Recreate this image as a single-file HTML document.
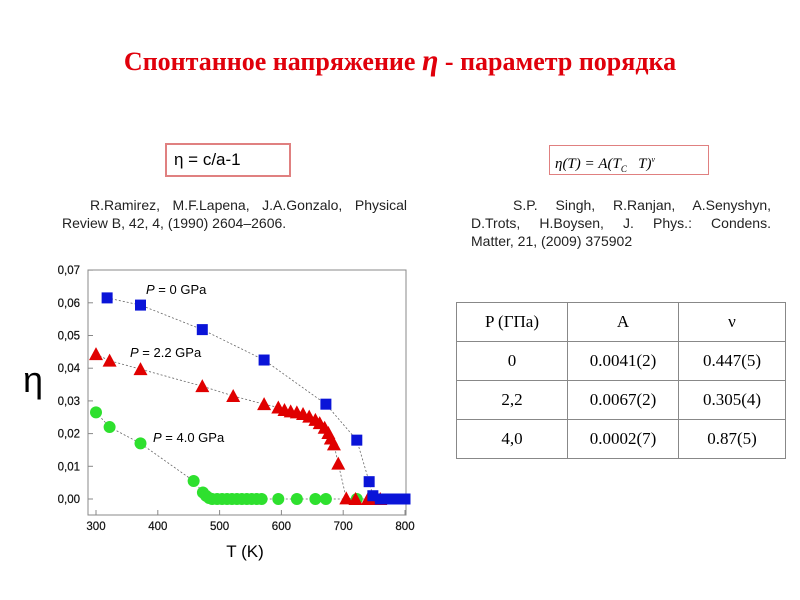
<!DOCTYPE html>
<html><head><meta charset="utf-8"><style>
body{margin:0;width:800px;height:600px;background:#fff;position:relative;font-family:"Liberation Sans",sans-serif;overflow:hidden}
.a{position:absolute}
table{border-collapse:collapse;font-family:"Liberation Serif",serif;font-size:17px}
td{border:1px solid #888;text-align:center;height:38px;padding:0}
.j{text-align:justify;text-align-last:justify;display:block;white-space:nowrap}
</style></head><body>
<div class="a" style="left:0;width:800px;top:44px;text-align:center;font-family:'Liberation Serif',serif;font-weight:bold;font-size:26px;color:#e0000b;white-space:nowrap">Спонтанное напряжение <i style="font-size:30px">η</i> - параметр порядка</div>
<div class="a" style="left:165px;top:143px;width:126px;height:34px;border:2px solid #e08080;box-sizing:border-box;font-size:17px;line-height:30px;padding-left:7px">η = c/a-1</div>
<div class="a" style="left:62px;top:196px;width:345px;font-size:14px;line-height:18px;color:#222">
<span class="j" style="padding-left:28px">R.Ramirez, M.F.Lapena, J.A.Gonzalo, Physical</span>
<span>Review B, 42, 4, (1990) 2604–2606.</span></div>
<div class="a" style="left:549px;top:145px;width:160px;height:30px;border:1px solid #e08080;font-family:'Liberation Serif',serif;font-style:italic;font-size:15px;line-height:28px;padding-left:5px;box-sizing:border-box">η(T) = A(T<sub style="font-size:9px">C</sub> &nbsp;&nbsp;T)<sup style="font-size:8px">ν</sup></div>
<div class="a" style="left:471px;top:196px;width:300px;font-size:14px;line-height:18px;color:#222">
<span class="j" style="padding-left:42px">S.P. Singh, R.Ranjan, A.Senyshyn,</span>
<span class="j">D.Trots, H.Boysen, J. Phys.: Condens.</span>
<span>Matter, 21, (2009) 375902</span></div>
<table class="a" style="left:456px;top:302px;width:330px">
<tr><td style="width:110px">P (ГПа)</td><td style="width:110px">A</td><td>ν</td></tr>
<tr><td>0</td><td>0.0041(2)</td><td>0.447(5)</td></tr>
<tr><td>2,2</td><td>0.0067(2)</td><td>0.305(4)</td></tr>
<tr><td>4,0</td><td>0.0002(7)</td><td>0.87(5)</td></tr>
</table>
<svg class="a" style="left:0;top:0" width="800" height="600" id="s"></svg>
<script>
const X=t=>96+(t-300)*0.618, Y=v=>499-v*3270;
let h='<rect x="88" y="270" width="318" height="245" fill="none" stroke="#888"/>';
for(let i=0;i<=7;i++){let y=Y(i/100);h+=`<line x1="88" x2="93" y1="${y}" y2="${y}" stroke="#888"/><text x="80" y="${y+4}" font-size="11.5" text-anchor="end" fill="#111" stroke="#111" stroke-width="0.2">0,0${i}</text>`;}
for(let t=300;t<=800;t+=100){let x=X(t);h+=`<line x1="${x}" x2="${x}" y1="515" y2="510" stroke="#888"/><text x="${x}" y="530" font-size="11.5" text-anchor="middle" fill="#111" stroke="#111" stroke-width="0.2">${t}</text>`;}
h+='<text x="245" y="557" font-size="17" text-anchor="middle">T (K)</text><text x="33" y="392" font-size="36" text-anchor="middle">η</text>';
const B=[[318,.0615],[372,.0593],[472,.0518],[572,.0425],[672,.029],[722,.018],[742,.0053],[748,.001],[760,0],[775,0],[790,0],[800,0]];
const R=[[300,.0443],[322,.0423],[372,.0397],[472,.0345],[522,.0315],[572,.029],[595,.028],[605,.0272],[615,.0268],[625,.0265],[635,.026],[645,.0252],[655,.0242],[662,.0232],[670,.0218],[676,.0202],[680,.0185],[685,.0167],[692,.0108],[705,.0002],[720,0],[740,0],[750,0],[760,0]];
const G=[[300,.0265],[322,.022],[372,.017],[458,.0055],[473,.002],[478,.001],[483,.0003]];
for(let t=488;t<=575;t+=8)G.push([t,0]);[595,625,655,672,722].forEach(t=>G.push([t,0]));
const line=(a,c)=>`<polyline fill="none" stroke="#666" stroke-dasharray="2,2" stroke-width="0.8" points="${a.map(p=>X(p[0])+','+Y(p[1])).join(' ')}"/>`;
h+=line(B)+line(R)+line(G);
G.forEach(p=>h+=`<circle cx="${X(p[0])}" cy="${Y(p[1])}" r="6" fill="#2ee02e"/>`);
R.forEach(p=>{let x=X(p[0]),y=Y(p[1]);h+=`<polygon points="${x-7},${y+6} ${x+7},${y+6} ${x},${y-7}" fill="#e00000"/>`});
B.forEach(p=>{let x=X(p[0]),y=Y(p[1]);h+=`<rect x="${x-5.5}" y="${y-5.5}" width="11" height="11" fill="#0a14d8"/>`});
h+='<text x="146" y="294" font-size="13"><tspan font-style="italic">P</tspan> = 0 GPa</text><text x="130" y="357" font-size="13"><tspan font-style="italic">P</tspan> = 2.2 GPa</text><text x="153" y="442" font-size="13"><tspan font-style="italic">P</tspan> = 4.0 GPa</text>';
document.getElementById('s').innerHTML=h;
</script>
</body></html>
